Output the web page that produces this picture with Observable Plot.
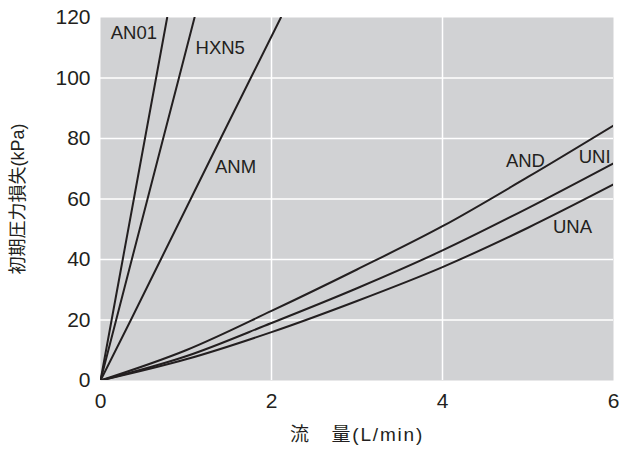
<!DOCTYPE html>
<html>
<head>
<meta charset="utf-8">
<script src="https://cdn.jsdelivr.net/npm/d3@7"></script>
<script src="https://cdn.jsdelivr.net/npm/@observablehq/plot@0.6"></script>
<style>
  html, body { margin: 0; padding: 0; background: white; }
</style>
</head>
<body>
<div id="chart"></div>
<script>
// Steep curves (read as flow at given pressure)
const steepPressure = [0, 20, 40, 60, 80, 100, 120];
const flowAN01 = [0, 0.13, 0.26, 0.39, 0.52, 0.65, 0.78];
const flowHXN5 = [0, 0.183, 0.366, 0.55, 0.733, 0.917, 1.10];
const flowANM  = [0, 0.355, 0.705, 1.055, 1.405, 1.757, 2.11];

// Shallow curves (pressure at given flow)
const shallowFlow = [0, 1, 2, 3, 4, 5, 6];
const pressAND = [0, 10, 23, 36.7, 51, 67.3, 84.3];
const pressUNI = [0, 8, 19, 30.5, 43, 57, 71.8];
const pressUNA = [0, 7, 16, 26.3, 37.5, 50.5, 64.8];

// Curve labels
const labelNames = ["AN01", "HXN5", "ANM", "AND", "UNI", "UNA"];
const labelX = [0.39, 1.40, 1.58, 4.97, 5.78, 5.52];
const labelY = [115, 110, 70.7, 72.7, 74, 50.6];

const xTicks = [0, 2, 4, 6];
const yTicks = [0, 20, 40, 60, 80, 100, 120];
const xTitle = "流\u3000量(L/min)";
const yTitle = "初期圧力損失(kPa)";

const steep = [];
[["AN01", flowAN01], ["HXN5", flowHXN5], ["ANM", flowANM]].forEach(([name, fl]) => {
  fl.forEach((f, i) => steep.push({name, flow: f, p: steepPressure[i]}));
});
const shallow = [];
[["AND", pressAND], ["UNI", pressUNI], ["UNA", pressUNA]].forEach(([name, ps]) => {
  ps.forEach((p, i) => shallow.push({name, flow: shallowFlow[i], p}));
});
const labels = labelNames.map((n, i) => ({name: n, x: labelX[i], y: labelY[i]}));

const ink = "#231f20";
const latin = '"Liberation Sans", Arial, Helvetica, sans-serif';
const jp = '"Liberation Sans", "Noto Sans CJK JP", sans-serif';

const chart = Plot.plot({
  width: 622,
  height: 453,
  marginLeft: 100,
  marginRight: 9,
  marginTop: 17,
  marginBottom: 73,
  style: {fontFamily: latin, fontSize: "21px", color: ink, background: "white", overflow: "visible"},
  x: {domain: [0, 6]},
  y: {domain: [0, 120]},
  marks: [
    Plot.frame({fill: "#d1d2d4", stroke: null}),
    Plot.gridX([2, 4], {stroke: "white", strokeOpacity: 1, strokeWidth: 1.5}),
    Plot.gridY([20, 40, 60, 80, 100], {stroke: "white", strokeOpacity: 1, strokeWidth: 1.5}),
    Plot.axisX(xTicks, {tickSize: 0, tickPadding: 13, fontSize: 21, label: null}),
    Plot.axisY(yTicks, {tickSize: 0, tickPadding: 10, fontSize: 21, label: null}),
    Plot.axisY({ticks: [], tickSize: 0, label: yTitle, labelArrow: "none", labelAnchor: "center", labelOffset: 89, fontSize: 18, fontFamily: jp}),
    Plot.line(steep, {x: "flow", y: "p", z: "name", stroke: ink, strokeWidth: 2, clip: true}),
    Plot.line(shallow, {x: "flow", y: "p", z: "name", stroke: ink, strokeWidth: 2, curve: "monotone-x", clip: true}),
    Plot.text(labels, {x: "x", y: "y", text: "name", fill: ink, fontSize: 18.5, textAnchor: "middle"}),
    Plot.text([xTitle], {text: d => d, frameAnchor: "bottom", dy: 60, fontSize: 19, fontFamily: jp, fill: ink})
  ]
});

d3.select(chart).selectAll("text").filter(function() { return this.textContent === xTitle; })
  .attr("letter-spacing", "1.8px");
// remove any automatic arrow from the y title
d3.select(chart).selectAll("text").filter(function() { return this.textContent.startsWith(yTitle) && this.textContent !== yTitle; })
  .text(yTitle);
document.getElementById("chart").appendChild(chart);
</script>
</body>
</html>
